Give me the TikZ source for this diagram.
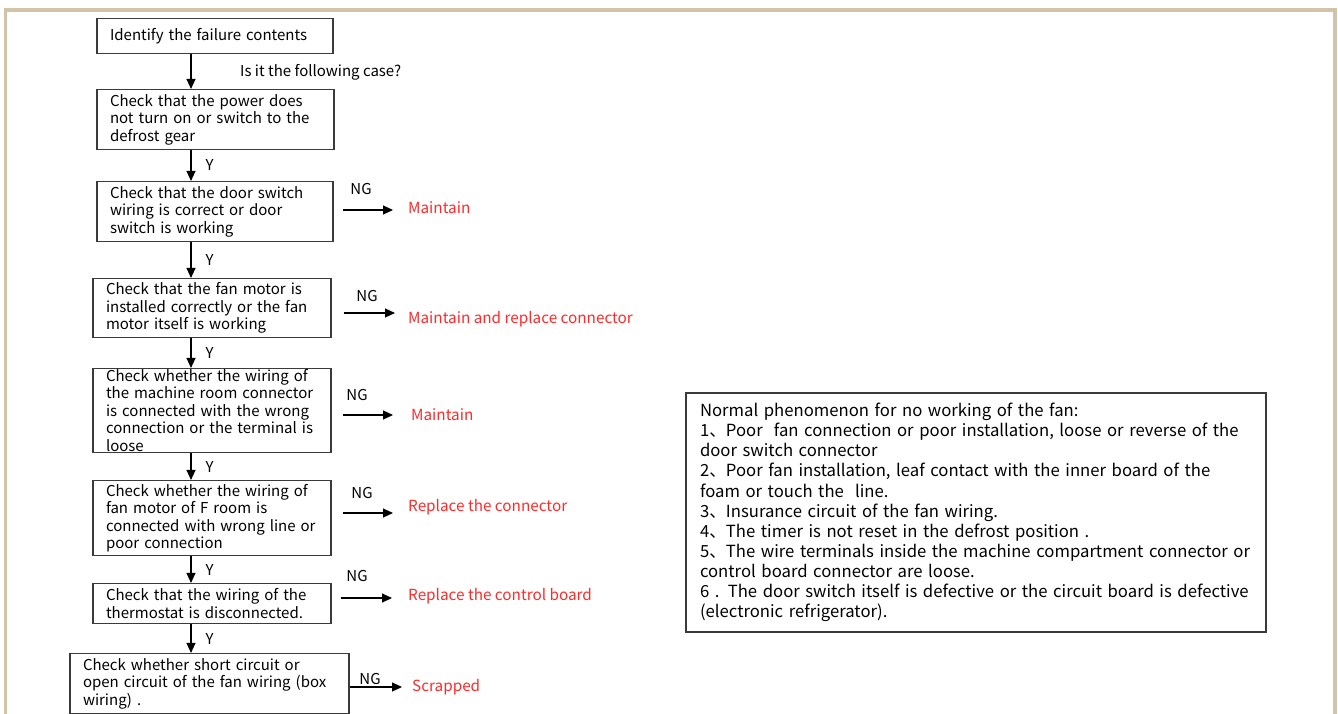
\documentclass[tikz,border=0pt]{standalone}
\usepackage{fontspec}
\setmainfont{Noto Sans CJK SC}
\usetikzlibrary{positioning,arrows.meta}
\definecolor{framebeige}{HTML}{D2C3A9}
\definecolor{ngred}{HTML}{FF2A2A}
\definecolor{boxgray}{HTML}{3A3A3A}

\begin{document}
\begin{tikzpicture}[x=1pt, y=-1pt,
  every node/.style={font=\fontsize{15}{17.5}\selectfont},
  box/.style={rectangle, draw=boxgray, line width=1.1pt, align=left,
              inner xsep=13pt, inner ysep=0pt},
  note/.style={rectangle, draw=boxgray, line width=1.1pt, align=left,
               inner xsep=14pt, inner ysep=0pt, font=\fontsize{16.7}{20.1}\selectfont},
  arr/.style={-{Triangle[length=10pt,width=9pt]}, line width=1.1pt},
  fix/.style={text=ngred, anchor=west, inner sep=0pt, font=\fontsize{15.3}{18}\selectfont},
  ng/.style={inner sep=0pt},
  ylab/.style={right=14pt, inner sep=0pt}
]
  \useasboundingbox (0,0) rectangle (1338,714);
  % page frame
  \draw[framebeige, line width=3.4pt] (5.6,714) -- (5.6,10) -- (1335,10) -- (1335,714);

  % check chain
  \node[box, text width=210pt, minimum height=35pt] (identify) at (215,36) {Identify the failure contents};
  \node[box, text width=211pt, minimum height=60pt] (power)    at (215.5,119.5) {Check that the power does\\not turn on or switch to the\\defrost gear};
  \node[box, text width=210pt, minimum height=60pt] (doorsw)   at (215,211.5) {Check that the door switch\\wiring is correct or door\\switch is working};
  \node[box, text width=212pt, minimum height=59pt] (fanmotor) at (212,308) {Check that the fan motor is\\installed correctly or the fan\\motor itself is working};
  \node[box, text width=212pt, minimum height=84pt] (machroom) at (212,410.5) {Check whether the wiring of\\the machine room connector\\is connected with the wrong\\connection or the terminal is\\loose};
  \node[box, text width=212pt, minimum height=75pt] (froom)    at (212,518) {Check whether the wiring of\\fan motor of F room is\\connected with wrong line or\\poor connection};
  \node[box, text width=212pt, minimum height=40pt] (thermo)   at (212,603.5) {Check that the wiring of the\\thermostat is disconnected.};
  \node[box, text width=253pt, minimum height=60pt] (shortc)   at (209.5,683.5) {Check whether short circuit or\\open circuit of the fan wiring (box\\wiring) .};

  \coordinate (spine) at (191,0);
  \draw[arr] (identify.south -| spine) -- (power.north -| spine);
  \node[anchor=west, inner sep=0pt] (askcase) at (240,72) {Is it the following case?};
  \draw[arr] (power.south -| spine)    -- node[ylab]{Y} (doorsw.north -| spine);
  \draw[arr] (doorsw.south -| spine)   -- node[ylab]{Y} (fanmotor.north -| spine);
  \draw[arr] (fanmotor.south -| spine) -- node[ylab]{Y} (machroom.north -| spine);
  \draw[arr] (machroom.south -| spine) -- node[ylab]{Y} (froom.north -| spine);
  \draw[arr] (froom.south -| spine)    -- node[ylab]{Y} (thermo.north -| spine);
  \draw[arr] (thermo.south -| spine)   -- node[ylab]{Y} (shortc.north -| spine);

  % NG branches
  \coordinate (t3) at (393,210);
  \coordinate (t4) at (395,313);
  \coordinate (t5) at (393,415);
  \coordinate (t6) at (393,513);
  \coordinate (t7) at (392,598);
  \coordinate (t8) at (402,687);
  \draw[arr] ([xshift=9pt]doorsw.east |- t3)    -- (t3);
  \draw[arr] ([xshift=12pt]fanmotor.east |- t4) -- (t4);
  \draw[arr] ([xshift=11pt]machroom.east |- t5) -- (t5);
  \draw[arr] ([xshift=11pt]froom.east |- t6)    -- (t6);
  \draw[arr] ([xshift=9pt]thermo.east |- t7)    -- (t7);
  \draw[arr] (shortc.east |- t8)                -- (t8);

  \node[ng] (ng3) at (361,189) {NG};
  \node[ng] (ng4) at (367,296) {NG};
  \node[ng] (ng5) at (357,395) {NG};
  \node[ng] (ng6) at (362,493) {NG};
  \node[ng] (ng7) at (357,576) {NG};
  \node[ng] (ng8) at (370,679) {NG};

  \node[fix] (fix3) at (408,208) {Maintain};
  \node[fix] (fix4) at (408,319) {Maintain and replace connector};
  \node[fix] (fix5) at (411,415) {Maintain};
  \node[fix] (fix6) at (408,507) {Replace the connector};
  \node[fix] (fix7) at (408,596) {Replace the control board};
  \node[fix] (fix8) at (412,687) {Scrapped};

  % notes
  \node[note, text width=552pt, minimum height=239pt] (normal) at (976,512.5)
    {Normal phenomenon for no working of the fan:\\
     1、Poor\ \ fan connection or poor installation, loose or reverse of the\\
     door switch connector\\
     2、Poor fan installation, leaf contact with the inner board of the\\
     foam or touch the\ \ line.\\
     3、Insurance circuit of the fan wiring.\\
     4、The timer is not reset in the defrost position .\\
     5、The wire terminals inside the machine compartment connector or\\
     control board connector are loose.\\
     6 . The door switch itself is defective or the circuit board is defective\\
     (electronic refrigerator).};
\end{tikzpicture}
\end{document}
